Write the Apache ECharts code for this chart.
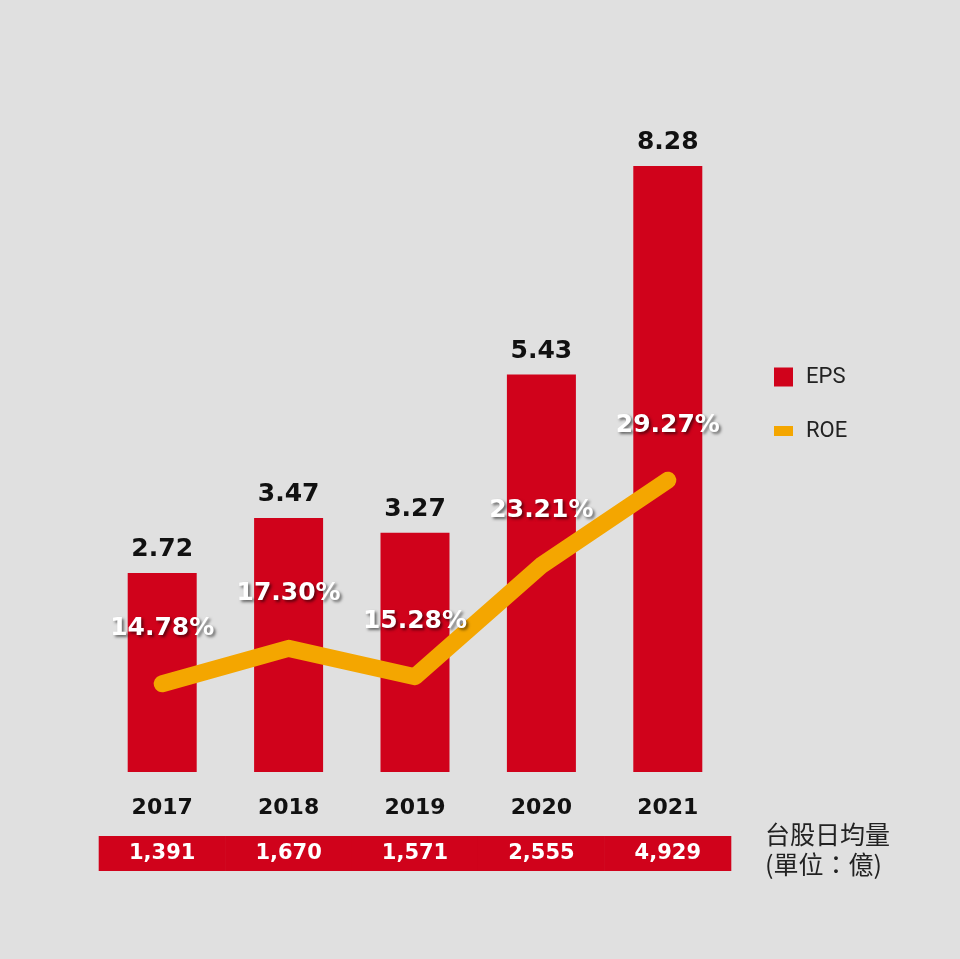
<!DOCTYPE html>
<html><head><meta charset="utf-8">
<script src="https://cdn.jsdelivr.net/npm/echarts@6/dist/echarts.min.js"></script>
<style>html,body{margin:0;padding:0;background:#e0e0e0}#c{width:960px;height:959px}</style>
</head><body><div id="c"></div>
<script>
var years = ['2017', '2018', '2019', '2020', '2021'];
var eps = [2.72, 3.47, 3.27, 5.43, 8.28];
var roe = [14.78, 17.30, 15.28, 23.21, 29.27];
var volume = ['1,391', '1,670', '1,571', '2,555', '4,929'];

var RED = '#d0021b', ORANGE = '#f4a600';
var NUM_FONT = '"DejaVu Sans", sans-serif';
var chart = echarts.init(document.getElementById('c'));
chart.setOption({
  backgroundColor: '#e0e0e0',
  animation: false,
  grid: {left: 99, right: 229, top: 40, bottom: 187},
  legend: [
    {data: ['EPS'], orient: 'vertical', left: 769, top: 361, itemWidth: 19, itemHeight: 19, icon: 'rect', itemGap: 0,
     textStyle: {fontSize: 22, color: '#222', fontFamily: 'Roboto', padding: [0, 0, 0, 8]}},
    {data: ['ROE'], orient: 'vertical', left: 769, top: 415, itemWidth: 19, itemHeight: 10, icon: 'rect', itemGap: 0,
     textStyle: {fontSize: 22, color: '#222', fontFamily: 'Roboto', padding: [0, 0, 0, 8]}}
  ],
  xAxis: [
    {type: 'category', data: years, position: 'bottom',
     axisLine: {show: false}, axisTick: {show: false}, splitLine: {show: false},
     axisLabel: {interval: 0, margin: 25, fontSize: 22, fontWeight: 'bold', color: '#111', fontFamily: NUM_FONT}},
    {type: 'category', data: volume, position: 'bottom',
     axisLine: {show: false}, axisTick: {show: false}, splitLine: {show: false},
     axisLabel: {interval: 0, showMinLabel: true, showMaxLabel: true, hideOverlap: false,
       margin: 64, fontSize: 21, fontWeight: 'bold', color: '#fff', fontFamily: NUM_FONT,
       backgroundColor: RED, width: 127, height: 35, lineHeight: 35, align: 'center'}}
  ],
  yAxis: [
    {type: 'value', min: 0, max: 10, show: false, splitLine: {show: false}},
    {type: 'value', min: 8.5, max: 60.6, show: false, splitLine: {show: false}}
  ],
  series: [
    {name: 'EPS', type: 'bar', data: eps, barWidth: 69, itemStyle: {color: RED},
     label: {show: true, position: 'top', distance: 11, fontSize: 25, fontWeight: 'bold', color: '#111', fontFamily: NUM_FONT,
       formatter: function (p) { return p.value.toFixed(2); }}},
    {name: 'ROE', type: 'line', yAxisIndex: 1, data: roe, symbol: 'circle', symbolSize: 1,
     itemStyle: {color: ORANGE}, lineStyle: {width: 17, color: ORANGE, cap: 'round', join: 'round'},
     label: {show: true, position: 'top', distance: 42, fontSize: 25, fontWeight: 'bold', color: '#fff', fontFamily: NUM_FONT,
       textShadowColor: 'rgba(0,0,0,0.55)', textShadowBlur: 3, textShadowOffsetX: 2, textShadowOffsetY: 2,
       formatter: function (p) { return p.value.toFixed(2) + '%'; }}}
  ],
  graphic: [
    {type: 'text', left: 765, top: 819,
     style: {text: '台股日均量\n(單位：億)', fontSize: 25, lineHeight: 30, fill: '#222', fontFamily: '"Noto Sans CJK TC", sans-serif'}}
  ]
});
</script></body></html>
